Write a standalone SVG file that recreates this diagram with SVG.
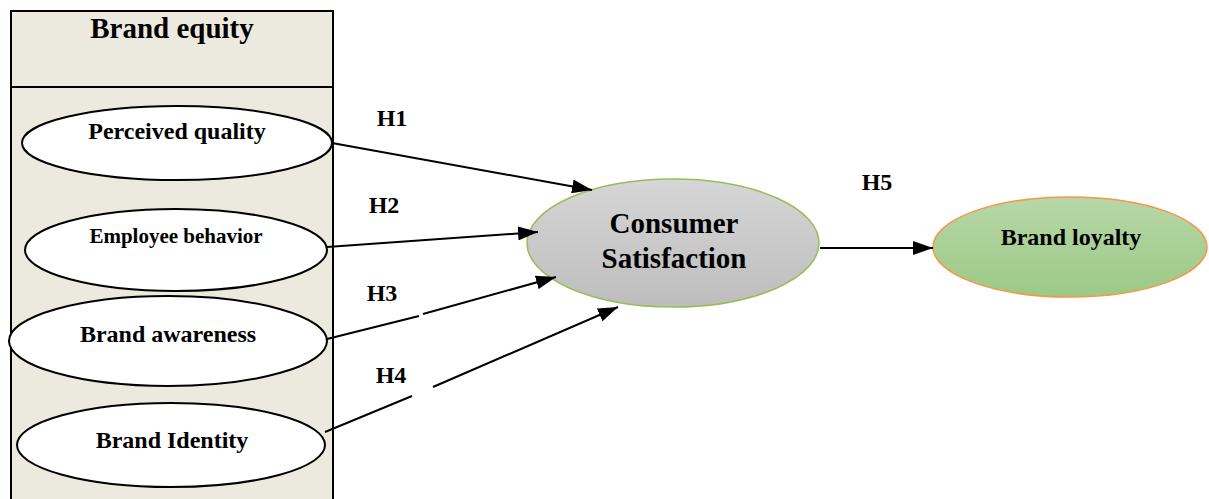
<svg xmlns="http://www.w3.org/2000/svg" width="1209" height="499" viewBox="0 0 1209 499">
<style>
text{font-family:"Liberation Serif","Times New Roman",serif;font-weight:bold;fill:#000;text-anchor:middle}
.w{fill:#fff;stroke:#000;stroke-width:2}
.c{stroke:#000;stroke-width:2;fill:none}
</style>
<defs>
<linearGradient id="gg" x1="0" y1="0" x2="0" y2="1"><stop offset="0" stop-color="#d6d6d6"/><stop offset="1" stop-color="#bdbdbd"/></linearGradient>
<linearGradient id="gr" x1="0" y1="0" x2="0" y2="1"><stop offset="0" stop-color="#b7d7a8"/><stop offset="1" stop-color="#9cc985"/></linearGradient>
<marker id="ah" markerWidth="20" markerHeight="14" refX="20" refY="7" orient="auto" markerUnits="userSpaceOnUse"><path d="M0,0 L20,7 L0,14 Z" fill="#000"/></marker>
</defs>
<g id="brand-equity">
<rect x="11" y="11" width="322" height="500" fill="#ECE9DE" stroke="#000" stroke-width="2"/>
<line x1="11" y1="87" x2="333" y2="87" stroke="#000" stroke-width="2"/>
<text x="172" y="38" font-size="29">Brand equity</text>
</g>
<g id="perceived-quality"><ellipse class="w" cx="177" cy="143" rx="155" ry="37"/><text x="177" y="139" font-size="24">Perceived quality</text></g>
<g id="employee-behavior"><ellipse class="w" cx="176" cy="250" rx="151" ry="41"/><text x="176" y="243" font-size="21">Employee behavior</text></g>
<g id="brand-awareness"><ellipse class="w" cx="168" cy="341" rx="159" ry="45"/><text x="168" y="342" font-size="24">Brand awareness</text></g>
<g id="brand-identity"><ellipse class="w" cx="171" cy="445" rx="154" ry="42"/><text x="172" y="448" font-size="24">Brand Identity</text></g>
<g id="consumer-satisfaction"><ellipse cx="673" cy="243" rx="146" ry="64" fill="url(#gg)" stroke="#9bbb59" stroke-width="1.5"/><text x="674" y="233" font-size="29">Consumer</text><text x="674" y="268" font-size="29">Satisfaction</text></g>
<g id="brand-loyalty"><ellipse cx="1070" cy="247" rx="137" ry="50" fill="url(#gr)" stroke="#f79646" stroke-width="1.5"/><text x="1071" y="245" font-size="24">Brand loyalty</text></g>
<g id="connectors">
<line class="c" x1="332" y1="143" x2="592" y2="190" marker-end="url(#ah)"/>
<line class="c" x1="327" y1="247" x2="538" y2="232" marker-end="url(#ah)"/>
<line class="c" x1="327" y1="339" x2="419" y2="316"/>
<line class="c" x1="423" y1="314" x2="556" y2="277" marker-end="url(#ah)"/>
<line class="c" x1="325" y1="432" x2="412" y2="396"/>
<line class="c" x1="433" y1="387" x2="618" y2="307" marker-end="url(#ah)"/>
<line class="c" x1="820" y1="248" x2="933" y2="248" marker-end="url(#ah)"/>
<text x="392" y="126" font-size="24">H1</text>
<text x="384" y="213" font-size="24">H2</text>
<text x="382" y="301" font-size="24">H3</text>
<text x="391" y="383" font-size="24">H4</text>
<text x="877" y="190" font-size="24">H5</text>
</g>
</svg>
